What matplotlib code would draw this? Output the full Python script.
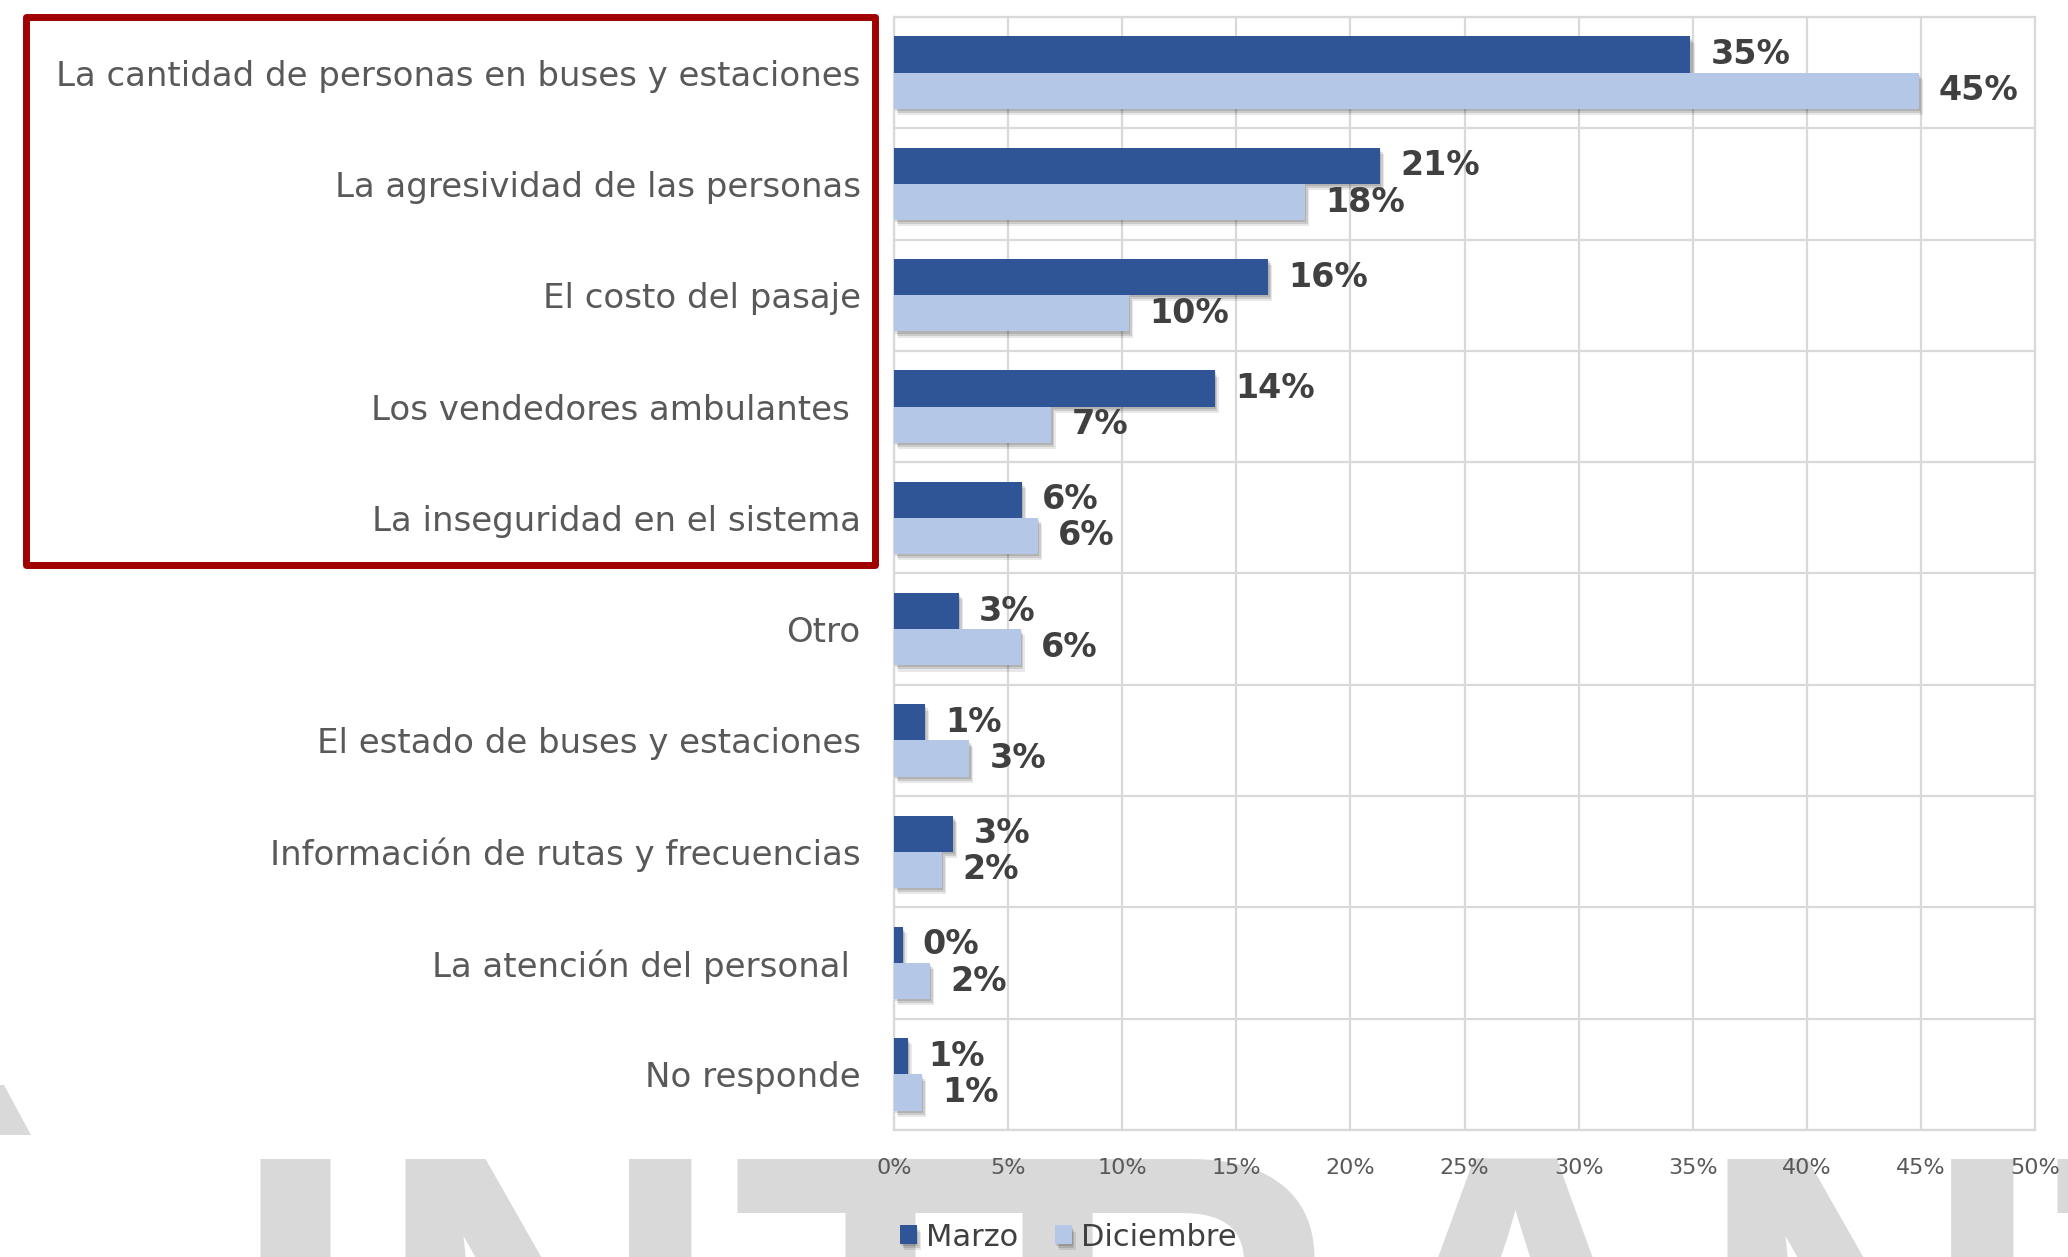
import matplotlib
matplotlib.use("Agg")
import matplotlib.pyplot as plt
import matplotlib.patheffects as pe
from matplotlib.patches import Rectangle, Polygon
from matplotlib.ticker import FuncFormatter
import numpy as np

# ---- data -------------------------------------------------------------
categories = [
    "La cantidad de personas en buses y estaciones",
    "La agresividad de las personas",
    "El costo del pasaje",
    "Los vendedores ambulantes ",
    "La inseguridad en el sistema",
    "Otro",
    "El estado de buses y estaciones",
    "Información de rutas y frecuencias",
    "La atención del personal ",
    "No responde",
]
marzo = [34.9, 21.3, 16.4, 14.05, 5.6, 2.85, 1.35, 2.6, 0.38, 0.6]
diciembre = [44.9, 18.0, 10.3, 6.9, 6.3, 5.55, 3.3, 2.1, 1.57, 1.22]
series_names = ["Marzo", "Diciembre"]
x_ticks = [0, 5, 10, 15, 20, 25, 30, 35, 40, 45, 50]

# ---- style ------------------------------------------------------------
W, H = 2068, 1257
DPI = 100
C_MARZO = "#2F5597"
C_DIC = "#B4C7E7"
C_GRID = "#D9D9D9"
C_LABEL = "#595959"
C_VALUE = "#404040"
C_WATERMARK = "#D9D9D9"

plt.rcParams["font.family"] = ["DejaVu Sans"]

fig = plt.figure(figsize=(W / DPI, H / DPI), dpi=DPI)
fig.patch.set_facecolor("white")


def px_x(x):
    return x / W


def px_y(y):
    return 1 - y / H


# plot area
left, right, top, bottom = 894, 2035, 17, 1130
ax = fig.add_axes([px_x(left), px_y(bottom), (right - left) / W, (bottom - top) / H])
ax.set_zorder(1)

y = np.arange(len(categories))
h = 0.325

shadow = [
    pe.SimplePatchShadow(offset=(1.0, -1.5), shadow_rgbFace="black", alpha=0.12),
    pe.SimplePatchShadow(offset=(2.0, -3.0), shadow_rgbFace="black", alpha=0.12),
    pe.SimplePatchShadow(offset=(3.0, -4.5), shadow_rgbFace="black", alpha=0.09),
    pe.Normal(),
]

b1 = ax.barh(y - h / 2, marzo, height=h, color=C_MARZO, label=series_names[0], zorder=3)
b2 = ax.barh(y + h / 2, diciembre, height=h, color=C_DIC, label=series_names[1], zorder=4)
for bars in (b1, b2):
    for p in bars:
        p.set_path_effects(shadow)

for bars, vals in ((b1, marzo), (b2, diciembre)):
    ax.bar_label(bars, labels=[f"{round(v)}%" for v in vals], padding=14.5,
                 fontsize=24, fontweight="bold", color=C_VALUE, zorder=6)

ax.set_xlim(0, 50)
ax.set_ylim(len(categories) - 0.5, -0.5)

ax.xaxis.set_major_locator(plt.FixedLocator(x_ticks))
ax.xaxis.set_major_formatter(FuncFormatter(lambda v, _: f"{v:.0f}%"))
ax.set_yticks(y)
ax.set_yticklabels(categories)
ax.set_yticks(np.arange(len(categories) + 1) - 0.5, minor=True)

ax.grid(axis="x", which="major", color=C_GRID, linewidth=1.6, zorder=0)
ax.grid(axis="y", which="minor", color=C_GRID, linewidth=1.6, zorder=0)
ax.set_axisbelow(True)

ax.tick_params(axis="x", length=0, pad=20, labelsize=16, labelcolor=C_LABEL)
ax.tick_params(axis="y", which="both", length=0, pad=24, labelsize=24.5, labelcolor=C_LABEL)
for s in ax.spines.values():
    s.set_color(C_GRID)
    s.set_linewidth(1.6)

# legend below the plot
fig.legend(handles=[b1, b2], labels=series_names, loc="center left",
           bbox_to_anchor=(px_x(900), px_y(1237)), ncol=2, frameon=False,
           fontsize=22, handlelength=0.55, handleheight=0.55, handletextpad=0.3,
           columnspacing=1.2, borderpad=0, borderaxespad=0,
           labelcolor=C_VALUE)

# highlight frame around the first five categories
frame = Rectangle((px_x(25.5), px_y(564.5)), px_x(874.5) - px_x(25.5),
                  px_y(16.5) - px_y(564.5), transform=fig.transFigure,
                  fill=False, edgecolor="#A00000", linewidth=5.0,
                  joinstyle="round", zorder=10)
fig.patches.append(frame)

# watermark lettering behind the chart
wm_letters = ["I", "N", "T", "R", "A", "N", "T"]
wm_centers = [295, 548, 880, 1165, 1515, 1870, 2200]
for ch, cx in zip(wm_letters, wm_centers):
    fig.text(px_x(cx), px_y(1494), ch, ha="center", va="baseline",
             fontsize=350, fontweight="bold", family="Liberation Sans",
             color=C_WATERMARK, zorder=-5)
fig.patches.append(Polygon([(px_x(0), px_y(1085)), (px_x(4), px_y(1085)),
                            (px_x(31), px_y(1135)), (px_x(0), px_y(1135))],
                           closed=True, transform=fig.transFigure,
                           facecolor=C_WATERMARK, edgecolor="none", zorder=-5))

fig.savefig("out.png", dpi=DPI, facecolor="white")
